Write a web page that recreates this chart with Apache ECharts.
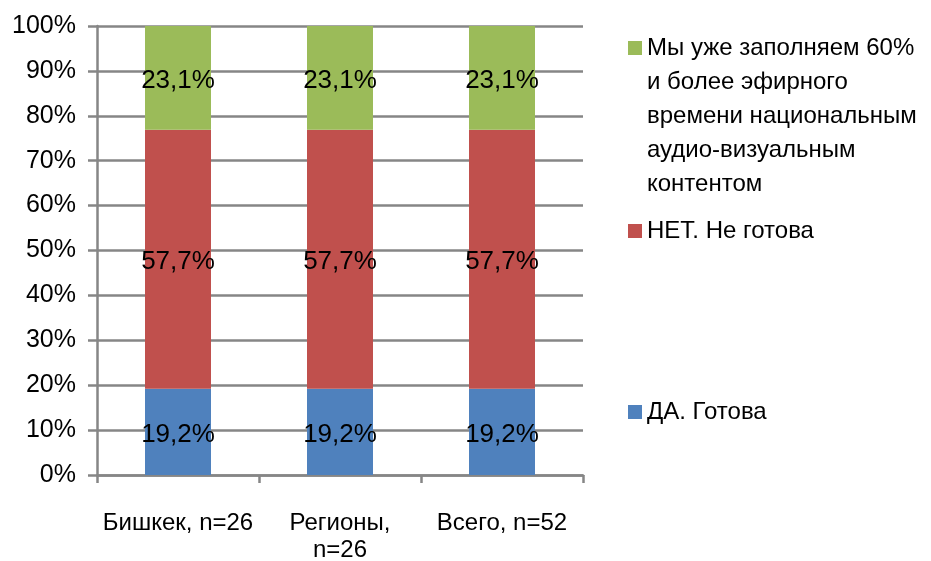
<!DOCTYPE html>
<html><head><meta charset="utf-8">
<script src="https://cdn.jsdelivr.net/npm/echarts@6/dist/echarts.min.js"></script>
<style>html,body{margin:0;padding:0;background:#fff}#c{width:931px;height:561px}</style>
</head><body><div id="c"></div>
<script>
const categories = ['Бишкек, n=26', 'Регионы,\nn=26', 'Всего, n=52'];
const seriesNames = ['ДА. Готова', 'НЕТ. Не готова', 'Мы уже заполняем 60% и более эфирного времени национальным аудио-визуальным контентом'];
const daValues = [19.2, 19.2, 19.2];
const netValues = [57.7, 57.7, 57.7];
const fillValues = [23.1, 23.1, 23.1];
const legendLines = ['Мы уже заполняем 60%', 'и более эфирного', 'времени национальным', 'аудио-визуальным', 'контентом'];
const yTicks = [0, 10, 20, 30, 40, 50, 60, 70, 80, 90, 100];

const FONT = 'Liberation Sans, Arial, sans-serif';
const colors = ['#4F81BD', '#C0504D', '#9BBB59'];
const gray = '#868686';

function labelFmt(p) { return p.value.toFixed(1).replace('.', ',') + '%'; }

const valuesList = [daValues, netValues, fillValues];
const series = seriesNames.map((n, i) => ({
  name: n, type: 'bar', stack: 'total', barWidth: 66,
  data: valuesList[i],
  itemStyle: { color: colors[i] },
  label: { show: true, position: 'inside', offset: [0, 3], color: '#000', fontFamily: FONT, fontSize: 26, formatter: labelFmt }
}));

const legTextStyle = { fontFamily: FONT, fontSize: 24, color: '#000', lineHeight: 34 };
function mkLegend(name, top, formatter) {
  return {
    data: [name], left: 628, top: top, padding: 0, orient: 'vertical',
    icon: 'rect', itemWidth: 14, itemHeight: 14, selectedMode: false,
    textStyle: legTextStyle, formatter: formatter
  };
}

const option = {
  animation: false,
  legend: [
    mkLegend(seriesNames[2], 48 - 17 - 34 * 4, () => '\n\n\n\n' + legendLines.join('\n')),
    mkLegend(seriesNames[1], 231 - 17),
    mkLegend(seriesNames[0], 412 - 17)
  ],
  grid: { left: 97, right: 348, top: 26, bottom: 86, outerBoundsMode: 'none', containLabel: false },
  xAxis: {
    type: 'category', data: categories,
    axisLine: { lineStyle: { color: gray, width: 2.5 } },
    axisTick: { show: true, length: 8, lineStyle: { color: gray, width: 2.5 } },
    axisLabel: { color: '#000', fontFamily: FONT, fontSize: 24, lineHeight: 27, margin: 35, interval: 0 }
  },
  yAxis: {
    type: 'value', min: 0, max: 100, interval: 10,
    axisLine: { show: true, lineStyle: { color: gray, width: 2.5 } },
    axisTick: { show: true, length: 9, lineStyle: { color: gray, width: 2.5 } },
    splitLine: { lineStyle: { color: gray, width: 2.5 } },
    axisLabel: { color: '#000', fontFamily: FONT, fontSize: 25, margin: 21,
      formatter: v => yTicks.indexOf(v) >= 0 ? v + '%' : '' }
  },
  series: series
};
echarts.init(document.getElementById('c')).setOption(option);
</script></body></html>
